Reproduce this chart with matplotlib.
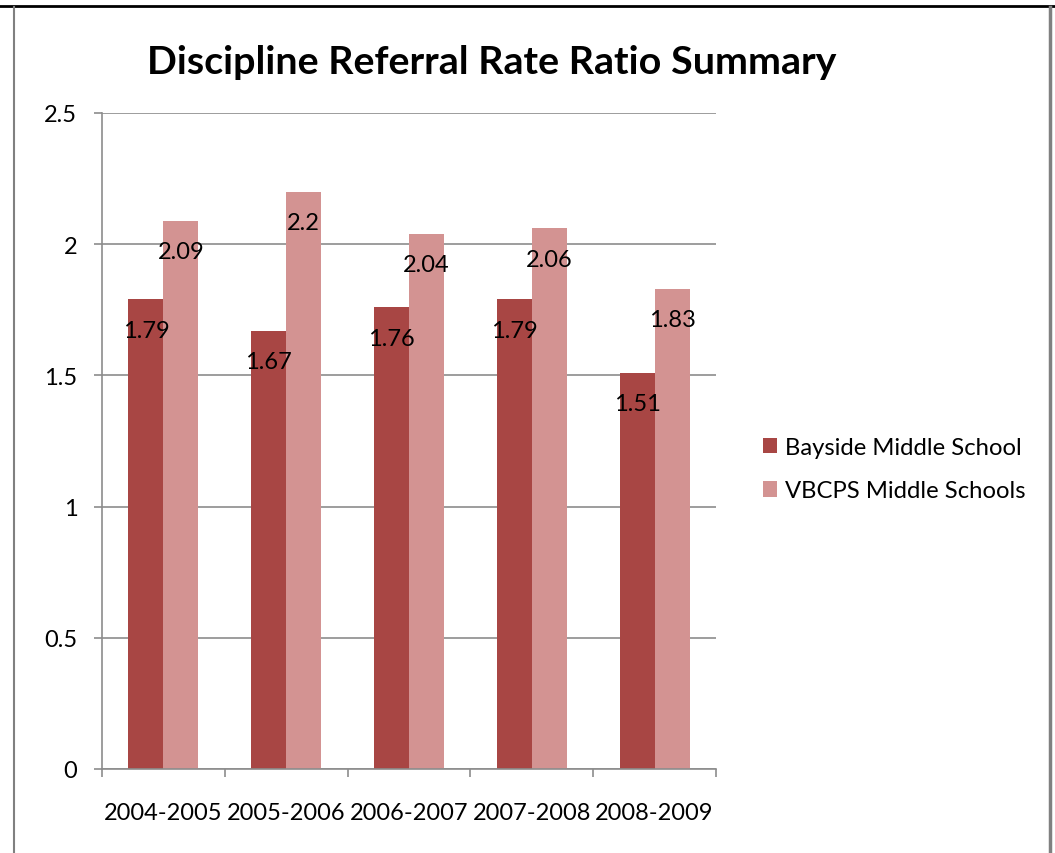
import matplotlib
matplotlib.use('Agg')

import matplotlib.pyplot as plt
from matplotlib.lines import Line2D
import numpy as np

plt.rcParams['font.family'] = ['Lato', 'DejaVu Sans']

# data
years = ['2004-2005', '2005-2006', '2006-2007', '2007-2008', '2008-2009']
bayside = [1.79, 1.67, 1.76, 1.79, 1.51]
vbcps = [2.09, 2.2, 2.04, 2.06, 1.83]
series_names = ['Bayside Middle School', 'VBCPS Middle Schools']

dark_red = '#A84644'
light_red = '#D39392'
grid_gray = '#8C8C8C'

W, H = 1055, 854
fig = plt.figure(figsize=(W / 100, H / 100), dpi=100)
ax = fig.add_axes([102 / W, 1 - 770 / H, 614 / W, 656 / H])

x = np.arange(len(years))
bw = 0.285
b1 = ax.bar(x - bw / 2, bayside, bw, color=dark_red, label=series_names[0], zorder=2)
b2 = ax.bar(x + bw / 2, vbcps, bw, color=light_red, label=series_names[1], zorder=2)

# value labels sit just inside the top of each bar
for bars, vals in [(b1, bayside), (b2, vbcps)]:
    for rect, v in zip(bars, vals):
        ax.annotate(f'{v:g}', (rect.get_x() + rect.get_width() / 2, v),
                    xytext=(0, -31), textcoords='offset pixels',
                    ha='center', va='center', fontsize=17, zorder=3)

ax.set_xlim(-0.5, len(years) - 0.5)
ax.set_ylim(0, 2.5)
ax.set_yticks([0, 0.5, 1, 1.5, 2, 2.5])
ax.set_yticklabels(['0', '0.5', '1', '1.5', '2', '2.5'])
ax.yaxis.grid(True, color=grid_gray, linewidth=1.2, zorder=0)
ax.set_axisbelow(True)

ax.set_xticks(x)
ax.set_xticklabels(years)
ax.set_xticks(np.arange(-0.5, len(years)), minor=True)
ax.tick_params(axis='x', which='major', length=0, pad=24, labelsize=17)
ax.tick_params(axis='x', which='minor', length=5.8, color=grid_gray, width=1.2)
ax.tick_params(axis='y', length=5.8, color=grid_gray, width=1.2, pad=12, labelsize=17)

for s in ['top', 'right']:
    ax.spines[s].set_visible(False)
for s in ['left', 'bottom']:
    ax.spines[s].set_color(grid_gray)
    ax.spines[s].set_linewidth(1.2)

fig.text(492 / W, 1 - 62 / H, 'Discipline Referral Rate Ratio Summary',
         ha='center', va='center', fontsize=28.4, fontweight='bold')

ax.legend(loc='center left', bbox_to_anchor=(741 / W, 1 - 470 / H),
          bbox_transform=fig.transFigure, frameon=False, fontsize=17.2,
          handlelength=0.6, handleheight=0.6, handletextpad=0.35, labelspacing=0.95)

# page frame around the chart
fig.add_artist(Line2D([0, 1], [1 - 7 / H] * 2, color='black', linewidth=2))
fig.add_artist(Line2D([14 / W] * 2, [0, 1 - 8 / H], color='#808080', linewidth=1.5))
fig.add_artist(Line2D([1050 / W] * 2, [0, 1 - 8 / H], color='#808080', linewidth=2.5))

fig.savefig('out.png', dpi=100)
